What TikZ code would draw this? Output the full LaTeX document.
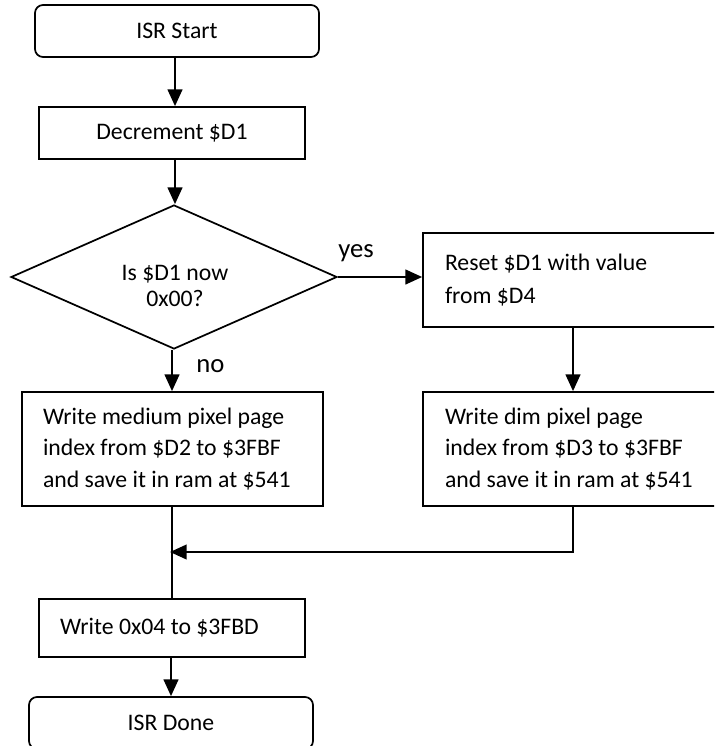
\documentclass[tikz,border=0pt]{standalone}
\usepackage{fontspec}
\setmainfont{Carlito}
\usetikzlibrary{shapes.geometric,arrows.meta}
\newcommand\bodyfont{\fontsize{17.8pt}{23.5pt}\selectfont}
\newcommand\labelfont{\fontsize{20pt}{24pt}\selectfont}
\newcommand\oneline[1]{{\spaceskip=0pt\xspaceskip=0pt\mbox{#1}}}
\hfuzz=100pt
\begin{document}
\begin{tikzpicture}[x=0.75pt,y=-0.75pt,
  box/.style={draw,line width=1.3pt,inner sep=0pt,font=\bodyfont,align=center},
  term/.style={box,rounded corners=6pt},
  leftbox/.style={box,align=left,inner xsep=#1*0.75pt},
  decision/.style={draw,line width=1.3pt,diamond,inner sep=0pt},
  dtext/.style={inner sep=0pt,align=center,font=\fontsize{17.8pt}{18.9pt}\selectfont},
  arr/.style={line width=1.5pt,-{Triangle[length=12.5pt,width=11pt]}},
  lbl/.style={font=\labelfont,inner sep=0pt}]
\clip (0,0) rectangle (714,746);
% nodes
\node[term,minimum width=284*0.75pt,minimum height=52*0.75pt] (start) at (177,31) {ISR Start};
\node[box,minimum width=266*0.75pt,minimum height=52*0.75pt] (dec) at (172,133) {Decrement \$D1};
\node[decision,minimum width=326*0.75pt,minimum height=144*0.75pt] (dia) at (174,277) {};
\node[dtext] (diatext) at (175,286) {Is \$D1 now\\0x00?};
\node[leftbox=22,text width=256*0.75pt,minimum height=94*0.75pt] (reset) at (573,280)
  {\oneline{Reset \$D1 with value}\\[1.5pt]\oneline{from \$D4}\\[-4pt]};
\node[leftbox=22,text width=256*0.75pt,minimum height=114*0.75pt] (dim) at (573,449)
  {\oneline{Write dim pixel page}\\\oneline{index from \$D3 to \$3FBF}\\\oneline{and save it in ram at \$541}};
\node[leftbox=21,text width=259*0.75pt,minimum height=114*0.75pt] (med) at (172.5,449)
  {\oneline{Write medium pixel page}\\\oneline{index from \$D2 to \$3FBF}\\\oneline{and save it in ram at \$541}};
\node[leftbox=21,text width=224*0.75pt,minimum height=58*0.75pt] (w04) at (172,628)
  {\oneline{Write 0x04 to \$3FBD}};
\node[term,minimum width=284*0.75pt,minimum height=52*0.75pt] (done) at (171,723) {ISR Done};
% labels
\node[lbl,anchor=base west] (yes) at (338,257) {yes};
\node[lbl,anchor=base west] (no) at (196,372) {no};
% connectors
\coordinate (m) at (172,552);
\draw[arr] (start.south -| 175,0) -- (dec.north -| 175,0);
\draw[arr] (dec.south -| 175,0) -- (dia.north -| 175,0);
\draw[arr] (dia.east) -- (reset.west |- dia.east);
\draw[arr] (dia.south -| 172,0) -- (med.north -| 172,0);
\draw[arr] (reset.south) -- (dim.north);
\draw[line width=1.5pt] (med.south -| 172,0) -- (w04.north -| 172,0);
\draw[arr,shorten >=-1.5pt] (dim.south) |- (m);
\draw[arr] (w04.south -| 171,0) -- (done.north -| 171,0);
\end{tikzpicture}
\end{document}
